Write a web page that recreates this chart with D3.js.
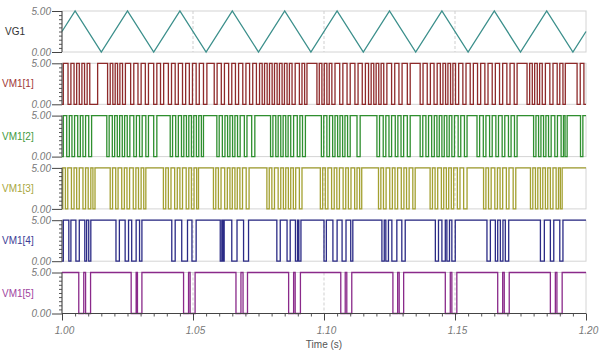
<!DOCTYPE html>
<html><head><meta charset="utf-8">
<script src="https://cdn.jsdelivr.net/npm/d3@7"></script>
<style>
html,body{margin:0;padding:0;background:#fff;}
svg{display:block;font-family:"Liberation Sans",Arial,sans-serif;}
</style></head>
<body><svg id="chart" width="600" height="356"></svg>
<script>
// ---------- DATA ----------
const seriesNames = ["VG1","VM1[1]","VM1[2]","VM1[3]","VM1[4]","VM1[5]"];
const xTickValues = [1.00,1.05,1.10,1.15,1.20];
const xMinorTicks = [1.005,1.01,1.015,1.02,1.025,1.03,1.035,1.04,1.045,1.055,1.06,1.065,1.07,1.075,1.08,1.085,1.09,1.095,
  1.105,1.11,1.115,1.12,1.125,1.13,1.135,1.14,1.145,1.155,1.16,1.165,1.17,1.175,1.18,1.185,1.19,1.195];
const yTickValues = [0,5];
const yMinorTicks = [0.5,1,1.5,2,2.5,3,3.5,4,4.5];
const xTitle = "Time (s)";

// VG1 triangle vertices
const vg1Times  = [1.000,1.005,1.015,1.025,1.035,1.045,1.055,1.065,1.075,1.085,1.095,1.105,1.115,1.125,1.135,1.145,1.155,1.165,1.175,1.185,1.195,1.200];
const vg1Values = [2.5,5,0,5,0,5,0,5,0,5,0,5,0,5,0,5,0,5,0,5,0,2.5];

// Digital traces: intervals [start,end] (s) where the signal is high (5 V), low (0 V) otherwise
const vm1_1 = [[1.0005,1.0023],[1.0034,1.0046],[1.0056,1.0066],[1.0076,1.0086],[1.0096,1.0106],
[1.0136,1.0174],
[1.0184,1.0194],[1.0203,1.0212],[1.0221,1.0231],
[1.0242,1.0262],[1.0274,1.0290],[1.0302,1.0318],[1.0330,1.0350],[1.0362,1.0376],[1.0388,1.0406],[1.0418,1.0432],[1.0444,1.0460],[1.0472,1.0486],[1.0498,1.0512],[1.0524,1.0540],
[1.0553,1.0581],
[1.0592,1.0608],[1.0620,1.0636],[1.0648,1.0662],[1.0674,1.0690],[1.0702,1.0716],[1.0728,1.0742],
[1.0754,1.0764],[1.0773,1.0783],[1.0792,1.0802],[1.0811,1.0821],[1.0830,1.0840],[1.0849,1.0859],[1.0868,1.0878],
[1.0890,1.0906],[1.0916,1.0926],
[1.0935,1.0973],
[1.0982,1.0992],[1.1001,1.1011],[1.1020,1.1030],
[1.1042,1.1060],[1.1072,1.1088],[1.1100,1.1118],[1.1130,1.1146],[1.1158,1.1170],
[1.1180,1.1190],[1.1199,1.1209],[1.1218,1.1228],
[1.1240,1.1258],[1.1270,1.1286],[1.1298,1.1318],
[1.1329,1.1367],
[1.1378,1.1394],[1.1406,1.1420],[1.1432,1.1444],
[1.1454,1.1464],[1.1473,1.1483],[1.1492,1.1502],
[1.1514,1.1530],[1.1542,1.1558],[1.1570,1.1586],[1.1598,1.1614],[1.1626,1.1642],[1.1654,1.1670],[1.1682,1.1698],[1.1710,1.1726],
[1.1737,1.1775],
[1.1785,1.1795],[1.1804,1.1814],[1.1823,1.1833],
[1.1845,1.1862],[1.1874,1.1890],[1.1900,1.1912],
[1.1921,1.1966],
[1.1978,1.1992]];

const vm1_2 = [[1.0005,1.0018],[1.0028,1.0038],[1.0048,1.0060],[1.0070,1.0080],[1.0090,1.0102],
[1.0113,1.0171],
[1.0180,1.0192],[1.0201,1.0211],[1.0220,1.0230],[1.0239,1.0249],
[1.0259,1.0274],[1.0284,1.0296],[1.0306,1.0320],[1.0330,1.0350],
[1.0362,1.0413],
[1.0422,1.0434],[1.0444,1.0456],[1.0465,1.0475],[1.0484,1.0494],[1.0503,1.0513],[1.0522,1.0532],
[1.0540,1.0591],
[1.0600,1.0612],[1.0622,1.0632],[1.0641,1.0651],[1.0660,1.0670],[1.0680,1.0696],[1.0706,1.0724],
[1.0736,1.0796],
[1.0805,1.0816],[1.0825,1.0835],[1.0844,1.0854],[1.0863,1.0873],[1.0884,1.0898],[1.0908,1.0918],
[1.0929,1.0990],
[1.0999,1.1011],[1.1021,1.1033],[1.1042,1.1052],[1.1061,1.1071],[1.1080,1.1090],[1.1100,1.1126],
[1.1138,1.1202],
[1.1212,1.1226],[1.1236,1.1248],[1.1258,1.1272],[1.1282,1.1294],[1.1304,1.1318],
[1.1329,1.1367],
[1.1377,1.1389],[1.1399,1.1411],[1.1421,1.1431],[1.1440,1.1450],[1.1459,1.1469],[1.1478,1.1488],[1.1498,1.1512],[1.1522,1.1536],
[1.1546,1.1584],
[1.1594,1.1608],[1.1618,1.1632],[1.1642,1.1656],[1.1666,1.1680],[1.1690,1.1704],[1.1714,1.1727],
[1.1737,1.1800],
[1.1809,1.1819],[1.1828,1.1838],[1.1847,1.1857],[1.1867,1.1881],[1.1891,1.1905],[1.1914,1.1920],
[1.1928,1.1979],
[1.1988,1.2000]];

const vm1_3 = [[1.0003,1.0013],[1.0022,1.0036],[1.0046,1.0056],[1.0066,1.0080],[1.0090,1.0100],[1.0110,1.0118],
[1.0126,1.0184],
[1.0193,1.0205],[1.0214,1.0228],[1.0238,1.0248],[1.0258,1.0272],[1.0282,1.0292],[1.0302,1.0312],
[1.0320,1.0387],
[1.0396,1.0406],[1.0416,1.0430],[1.0440,1.0450],[1.0460,1.0474],[1.0484,1.0494],[1.0504,1.0514],
[1.0521,1.0578],
[1.0587,1.0597],[1.0607,1.0621],[1.0631,1.0641],[1.0650,1.0660],[1.0669,1.0679],[1.0689,1.0703],
[1.0714,1.0782],
[1.0791,1.0801],[1.0811,1.0825],[1.0835,1.0845],[1.0854,1.0864],[1.0873,1.0883],[1.0892,1.0906],
[1.0916,1.0986],
[1.0995,1.1005],[1.1015,1.1029],[1.1039,1.1049],[1.1059,1.1073],[1.1083,1.1093],[1.1103,1.1117],[1.1126,1.1136],
[1.1144,1.1208],
[1.1217,1.1227],[1.1237,1.1251],[1.1261,1.1271],[1.1281,1.1295],[1.1305,1.1315],[1.1325,1.1339],
[1.1348,1.1405],
[1.1414,1.1424],[1.1434,1.1448],[1.1457,1.1467],[1.1476,1.1486],[1.1495,1.1509],[1.1519,1.1533],
[1.1546,1.1609],
[1.1618,1.1628],[1.1638,1.1652],[1.1662,1.1672],[1.1682,1.1696],[1.1706,1.1722],
[1.1732,1.1788],
[1.1797,1.1807],[1.1816,1.1826],[1.1835,1.1845],[1.1854,1.1864],[1.1874,1.1886],[1.1895,1.1902],
[1.1909,1.2000]];

const vm1_4 = [[1.0005,1.0026],[1.0034,1.0053],[1.0066,1.0087],[1.0094,1.0102],[1.0110,1.0206],
[1.0219,1.0241],[1.0254,1.0266],[1.0283,1.0296],[1.0305,1.0419],
[1.0432,1.0457],[1.0479,1.0496],[1.0512,1.0604],
[1.0610,1.0614],[1.0619,1.0648],[1.0668,1.0693],[1.0712,1.0820],
[1.0833,1.0859],[1.0871,1.0891],[1.0899,1.0904],[1.0912,1.1000],
[1.1009,1.1034],[1.1050,1.1069],[1.1084,1.1102],[1.1110,1.1221],
[1.1230,1.1236],[1.1246,1.1259],[1.1278,1.1297],[1.1310,1.1425],
[1.1437,1.1450],[1.1463,1.1469],[1.1479,1.1488],[1.1501,1.1622],
[1.1635,1.1654],[1.1663,1.1673],[1.1683,1.1692],[1.1705,1.1826],
[1.1841,1.1864],[1.1877,1.1900],[1.1912,1.2000]];

const vm1_5 = [[1.0000,1.0064],[1.0083,1.0090],[1.0109,1.0264],[1.0283,1.0288],[1.0305,1.0464],[1.0483,1.0489],[1.0508,1.0664],[1.0683,1.0691],
[1.0708,1.0865],[1.0884,1.0890],[1.0910,1.1064],[1.1081,1.1087],[1.1106,1.1263],[1.1281,1.1287],[1.1304,1.1463],[1.1482,1.1488],
[1.1507,1.1663],[1.1682,1.1688],[1.1707,1.1864],[1.1883,1.1889],[1.1909,1.2000]];

const digitalSeries = [vm1_1, vm1_2, vm1_3, vm1_4, vm1_5];
const lineColors  = ["#3b8f8b","#8e2a2a","#2f8f2f","#a3a030","#2b2b86","#8a2a8a"];
const labelColors = ["#333333","#a03838","#3f9a3f","#a8a640","#3c3c96","#a044a0"];

// ---------- LAYOUT ----------
const svg = d3.select("#chart");
const left = 62, right = 586;
const panelTop0 = 11, panelStep = 52.3, panelH = 41;
const xDomain = [1.0, 1.2];
const x = d3.scaleLinear().domain(xDomain).range([left, right]);

function digitalPoints(iv) {
  const pts = [];
  if (iv[0][0] > xDomain[0]) pts.push([xDomain[0], 0]);
  iv.forEach(([s, e]) => {
    if (s > xDomain[0]) pts.push([s, 0]);
    pts.push([s, 5]);
    pts.push([e, 5]);
    if (e < xDomain[1]) pts.push([e, 0]);
  });
  const last = pts[pts.length - 1];
  if (last[0] < xDomain[1]) pts.push([xDomain[1], last[1]]);
  return pts;
}

seriesNames.forEach((name, i) => {
  const top = panelTop0 + i * panelStep;
  const y = d3.scaleLinear().domain([0, 5]).range([top + panelH, top]);
  const g = svg.append("g");

  g.append("rect").attr("x", left).attr("y", y(5)).attr("width", right - left).attr("height", y(0) - y(5))
    .attr("fill", "none").attr("stroke", "#d4d4d4").attr("stroke-width", 1);
  g.selectAll("line.vg").data([1.05, 1.10, 1.15]).enter().append("line")
    .attr("x1", d => x(d)).attr("x2", d => x(d)).attr("y1", y(5)).attr("y2", y(0))
    .attr("stroke", "#cfcfcf").attr("stroke-dasharray", "3,2").attr("stroke-width", 1);

  const pts = i === 0 ? vg1Times.map((t, k) => [t, vg1Values[k]]) : digitalPoints(digitalSeries[i - 1]);
  const line = d3.line().x(d => x(d[0])).y(d => y(d[1]));
  g.append("path").attr("d", line(pts)).attr("fill", "none")
    .attr("stroke", lineColors[i]).attr("stroke-width", 1.3).attr("stroke-linejoin", "miter");

  const minor = g.append("g").attr("transform", `translate(${left},0)`)
    .call(d3.axisLeft(y).tickValues(yMinorTicks).tickSize(3).tickFormat(""));
  minor.select(".domain").remove();
  minor.selectAll("line").attr("stroke", "#555");
  const ax = g.append("g").attr("transform", `translate(${left},0)`)
    .call(d3.axisLeft(y).tickValues(yTickValues).tickSize(10).tickPadding(1).tickFormat(d3.format(".2f")));
  ax.select(".domain").attr("stroke", "#444").attr("d", `M0,${y(5)}V${y(0)}`);
  ax.selectAll(".tick line").attr("stroke", "#444");
  ax.selectAll("text").attr("font-size", 10).attr("font-style", "italic").attr("fill", "#777")
    .attr("font-family", "Liberation Sans, Arial, sans-serif");

  g.append("text").attr("x", i === 0 ? 5 : 2).attr("y", (y(5) + y(0)) / 2 + 1)
    .attr("font-size", 10).attr("fill", labelColors[i]).attr("dominant-baseline", "middle")
    .text(name);
});

const axisY = panelTop0 + 5 * panelStep + panelH;
const xm = svg.append("g").attr("transform", `translate(0,${axisY})`)
  .call(d3.axisBottom(x).tickValues(xMinorTicks).tickSize(3).tickFormat(""));
xm.select(".domain").remove();
xm.selectAll("line").attr("stroke", "#555");
const xa = svg.append("g").attr("transform", `translate(0,${axisY})`)
  .call(d3.axisBottom(x).tickValues(xTickValues).tickSize(7).tickPadding(6).tickFormat(d3.format(".2f")));
xa.select(".domain").attr("stroke", "#444").attr("d", `M${left},0H${right}`);
xa.selectAll(".tick line").attr("stroke", "#444");
xa.selectAll("text").attr("font-size", 10).attr("font-style", "italic").attr("fill", "#777").attr("dx", 2)
  .attr("font-family", "Liberation Sans, Arial, sans-serif");

svg.append("text").attr("x", (left + right) / 2).attr("y", 348).attr("text-anchor", "middle")
  .attr("font-size", 10).attr("fill", "#555").text(xTitle);
</script></body></html>
